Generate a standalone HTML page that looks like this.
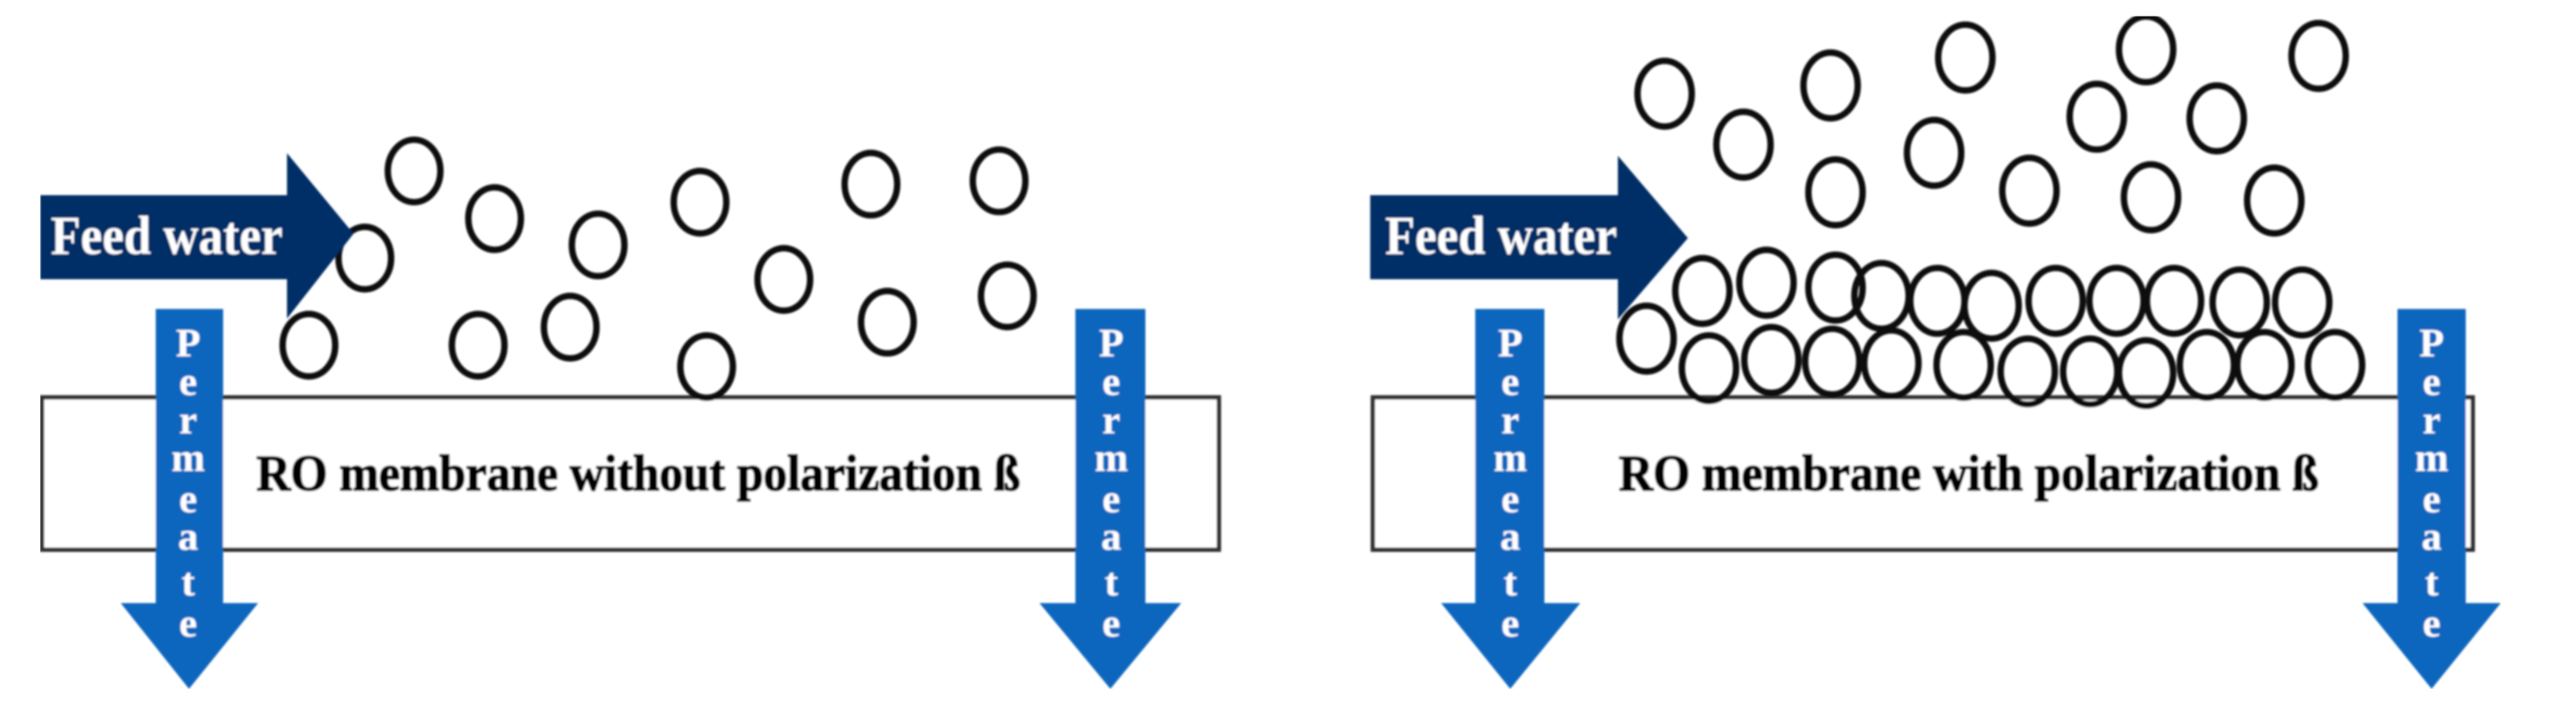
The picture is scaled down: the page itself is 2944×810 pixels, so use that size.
<!DOCTYPE html>
<html><head><meta charset="utf-8"><style>html,body{margin:0;padding:0;background:#fff;width:2944px;height:810px;overflow:hidden}svg{display:block}text{font-family:"Liberation Serif",serif;font-weight:bold}</style></head>
<body>
<svg width="2944" height="810" viewBox="0 0 2944 810" xmlns="http://www.w3.org/2000/svg">
<defs><filter id="b" x="0" y="0" width="100%" height="100%"><feGaussianBlur stdDeviation="1.1"/></filter></defs>
<rect width="2944" height="810" fill="#fff"/>
<g filter="url(#b)">
<rect x="48" y="454" width="1345" height="174" fill="#fff" stroke="#333" stroke-width="5"/>
<rect x="1569" y="454" width="1257" height="174" fill="#fff" stroke="#333" stroke-width="5"/>
<text x="293" y="560" font-size="58" textLength="873" lengthAdjust="spacingAndGlyphs" fill="#000" stroke="#000" stroke-width="1.6">RO membrane without polarization ß</text>
<text x="1850" y="560" font-size="58" textLength="800" lengthAdjust="spacingAndGlyphs" fill="#000" stroke="#000" stroke-width="1.6">RO membrane with polarization ß</text>
<g transform="scale(1.878)" fill="none" stroke="#0c0c0c" stroke-width="3.9">
<ellipse cx="252" cy="104" rx="16" ry="19"/><ellipse cx="301" cy="133" rx="16" ry="19"/><ellipse cx="222" cy="157" rx="16" ry="19"/><ellipse cx="364" cy="149" rx="16" ry="19"/><ellipse cx="426" cy="123" rx="16" ry="19"/><ellipse cx="530" cy="112" rx="16" ry="19"/><ellipse cx="608" cy="110" rx="16" ry="19"/><ellipse cx="477" cy="170" rx="16" ry="19"/><ellipse cx="540" cy="196" rx="16" ry="19"/><ellipse cx="613" cy="180" rx="16" ry="19"/><ellipse cx="188" cy="210" rx="16" ry="19"/><ellipse cx="291" cy="210" rx="16" ry="19"/><ellipse cx="347" cy="199" rx="16" ry="19"/><ellipse cx="430" cy="223" rx="16" ry="19"/>
<ellipse cx="1013" cy="57" rx="16.5" ry="20"/><ellipse cx="1061" cy="88" rx="16.5" ry="20"/><ellipse cx="1114" cy="52" rx="16.5" ry="20"/><ellipse cx="1196" cy="35" rx="16.5" ry="20"/><ellipse cx="1306" cy="30" rx="16.5" ry="20"/><ellipse cx="1411" cy="34" rx="16.5" ry="20"/><ellipse cx="1276" cy="71" rx="16.5" ry="20"/><ellipse cx="1349" cy="72" rx="16.5" ry="20"/><ellipse cx="1177" cy="93" rx="16.5" ry="20"/><ellipse cx="1117" cy="117" rx="16.5" ry="20"/><ellipse cx="1235" cy="116" rx="16.5" ry="20"/><ellipse cx="1309" cy="120" rx="16.5" ry="20"/><ellipse cx="1384" cy="122" rx="16.5" ry="20"/>
<ellipse cx="1036" cy="177" rx="16.5" ry="20"/><ellipse cx="1075" cy="172" rx="16.5" ry="20"/><ellipse cx="1117" cy="175" rx="16.5" ry="20"/><ellipse cx="1145" cy="180" rx="16.5" ry="20"/><ellipse cx="1179" cy="183" rx="16.5" ry="20"/><ellipse cx="1212" cy="186" rx="16.5" ry="20"/><ellipse cx="1251" cy="183" rx="16.5" ry="20"/><ellipse cx="1288" cy="183" rx="16.5" ry="20"/><ellipse cx="1323" cy="183" rx="16.5" ry="20"/><ellipse cx="1363" cy="184" rx="16.5" ry="20"/><ellipse cx="1401" cy="184" rx="16.5" ry="20"/>
<ellipse cx="1002" cy="206" rx="16.5" ry="20"/><ellipse cx="1040" cy="224" rx="16.5" ry="20"/><ellipse cx="1078" cy="219" rx="16.5" ry="20"/><ellipse cx="1115" cy="220" rx="16.5" ry="20"/><ellipse cx="1151" cy="221" rx="16.5" ry="20"/><ellipse cx="1195" cy="222" rx="16.5" ry="20"/><ellipse cx="1234" cy="226" rx="16.5" ry="20"/><ellipse cx="1272" cy="226" rx="16.5" ry="20"/><ellipse cx="1306" cy="227" rx="16.5" ry="20"/><ellipse cx="1343" cy="222" rx="16.5" ry="20"/><ellipse cx="1378" cy="222" rx="16.5" ry="20"/><ellipse cx="1421" cy="222" rx="16.5" ry="20"/>
</g>
<polygon points="46,223 328,223 328,175 404,267 328,364 328,319 46,319" fill="#032e66"/>
<polygon points="1566,223 1849,223 1849,178 1929,272 1849,365 1849,319 1566,319" fill="#032e66"/>
<text x="58" y="290" font-size="62" textLength="265" lengthAdjust="spacingAndGlyphs" fill="#fff">Feed water</text>
<text x="1583" y="290" font-size="62" textLength="265" lengthAdjust="spacingAndGlyphs" fill="#fff">Feed water</text>
<g fill="#1066bd">
<polygon points="178,353 255,353 255,689 295,689 216,787 138,689 178,689"/>
<polygon points="1229,353 1309,353 1309,689 1350,689 1269,787 1188,689 1229,689"/>
<polygon points="1686,353 1765,353 1765,689 1806,689 1726,787 1647,689 1686,689"/>
<polygon points="2740,353 2818,353 2818,689 2858,689 2779,787 2700,689 2740,689"/>
</g>
<g fill="#fff" font-size="46" text-anchor="middle">
<text x="215" y="407">P</text><text x="215" y="451">e</text><text x="215" y="495">r</text><text x="215" y="538">m</text><text x="215" y="585">e</text><text x="215" y="628">a</text><text x="215" y="680">t</text><text x="215" y="727">e</text>
<text x="1270" y="407">P</text><text x="1270" y="451">e</text><text x="1270" y="495">r</text><text x="1270" y="538">m</text><text x="1270" y="585">e</text><text x="1270" y="628">a</text><text x="1270" y="680">t</text><text x="1270" y="727">e</text>
<text x="1726" y="407">P</text><text x="1726" y="451">e</text><text x="1726" y="495">r</text><text x="1726" y="538">m</text><text x="1726" y="585">e</text><text x="1726" y="628">a</text><text x="1726" y="680">t</text><text x="1726" y="727">e</text>
<text x="2779" y="407">P</text><text x="2779" y="451">e</text><text x="2779" y="495">r</text><text x="2779" y="538">m</text><text x="2779" y="585">e</text><text x="2779" y="628">a</text><text x="2779" y="680">t</text><text x="2779" y="727">e</text>
</g>
</g>
</svg>
</body></html>
